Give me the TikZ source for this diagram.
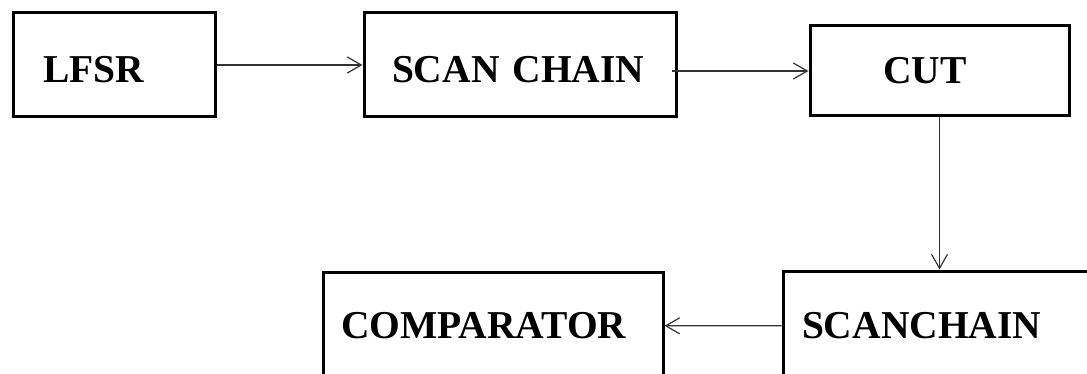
\documentclass[tikz,border=0pt]{standalone}
\usepackage{fontspec}
\setmainfont{Liberation Serif}
\usetikzlibrary{arrows.meta}

\begin{document}
\begin{tikzpicture}[x=1pt,y=-1pt,
	block/.style={draw, line width=3pt, align=left, inner ysep=0pt,
		font=\fontsize{39.5}{42}\selectfont\bfseries},
	arr/.style={-{Straight Barb[length=14pt,width=16pt]}, line width=1.2pt, black!80}]
	\useasboundingbox (0,0) rectangle (1087,374);
	\clip (0,0) rectangle (1087,374);
	% top row
	\node [block, minimum height=104, text height=36pt, inner xsep=30pt, text width=142pt] (lfsr) at (114,65) {LFSR};
	\node [block, minimum height=104, text height=36pt, inner xsep=28pt, text width=256pt] (scan) at (520,65) {SCAN~CHAIN};
	\node [block, minimum height=90, inner xsep=73pt, text width=113pt] (cut) at (939.5,71) {CUT};
	% bottom row
	\node [block, minimum height=108, inner xsep=18pt, text width=304pt] (comp) at (493,326) {COMPARATOR};
	\node [block, minimum height=109, inner xsep=19pt, text width=300pt] (chain) at (952,325.5) {SCANCHAIN};
	% connections
	\draw [arr] (lfsr) -- (scan);
	\draw [arr] ([xshift=-6pt]scan.east |- cut) -- (cut);
	\draw [arr] (cut) -- (cut |- chain.north);
	\draw [arr] (chain) -- (comp);
\end{tikzpicture}
\end{document}
